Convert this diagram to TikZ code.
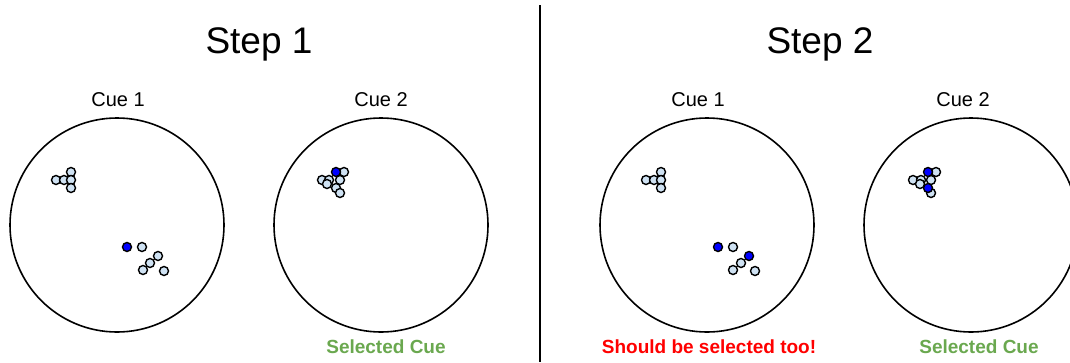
\documentclass[tikz,border=0pt]{standalone}
\usepackage{fontspec}
\setmainfont{Liberation Sans}
\usepackage{xcolor}
\definecolor{pale}{RGB}{207,226,243}
\definecolor{okgreen}{RGB}{106,168,79}
\begin{document}
\begin{tikzpicture}[x=1pt, y=-1pt,
  disc/.style={draw, line width=1.6pt},
  pt/.style={draw, line width=1.4pt, fill=pale},
  hit/.style={draw, line width=1.4pt, fill=blue},
  title/.style={anchor=base, font=\fontsize{37}{40}\selectfont},
  cue/.style={anchor=base, font=\fontsize{20}{24}\selectfont},
  note/.style={anchor=base, font=\bfseries\fontsize{19}{22}\selectfont}]
  \useasboundingbox (0,0) rectangle (1070,362);
  \draw[line width=2pt] (540,5) -- (540,362);

  \node[title] (step1) at (259,53) {Step 1};
  \node[title] (step2) at (820,53) {Step 2};

  \node[cue] (s1cue1) at (118,106) {Cue 1};
  \node[cue] (s1cue2) at (381,106) {Cue 2};
  \node[cue] (s2cue1) at (698,106) {Cue 1};
  \node[cue] (s2cue2) at (963,106) {Cue 2};

  \draw[disc] (117,225) circle[radius=107];
  \draw[disc] (381,225) circle[radius=107];
  \draw[disc] (707,225) circle[radius=107];
  \draw[disc] (971,225) circle[radius=107];

  % Step 1, cue 1
  \foreach \x/\y in {56/180, 64/180, 71/172, 71/180, 71/188,
                     142/247, 158/256, 150/263, 143/270, 164/271}
    \draw[pt] (\x,\y) circle[radius=4.5];
  \draw[hit] (127,247) circle[radius=4.5];

  % Step 1, cue 2
  \foreach \x/\y in {322/180, 329/180, 327/184, 340/180, 344/172, 336/188, 340/193}
    \draw[pt] (\x,\y) circle[radius=4.5];
  \draw[hit] (336,172) circle[radius=4.5];

  % Step 2, cue 1
  \foreach \x/\y in {646/180, 654/180, 661/172, 661/180, 661/188,
                     733/247, 741/263, 733/270, 755/271}
    \draw[pt] (\x,\y) circle[radius=4.5];
  \draw[hit] (718,247) circle[radius=4.5];
  \draw[hit] (749,256) circle[radius=4.5];

  % Step 2, cue 2
  \foreach \x/\y in {913/180, 921/180, 920/184, 931/180, 936/172, 931/193}
    \draw[pt] (\x,\y) circle[radius=4.5];
  \draw[hit] (928,172) circle[radius=4.5];
  \draw[hit] (928,188) circle[radius=4.5];

  \node[note, text=okgreen] (sel1) at (386,353) {Selected Cue};
  \node[note, text=red] (miss) at (709,353) {Should be selected too!};
  \node[note, text=okgreen] (sel2) at (979,353) {Selected Cue};
\end{tikzpicture}
\end{document}
